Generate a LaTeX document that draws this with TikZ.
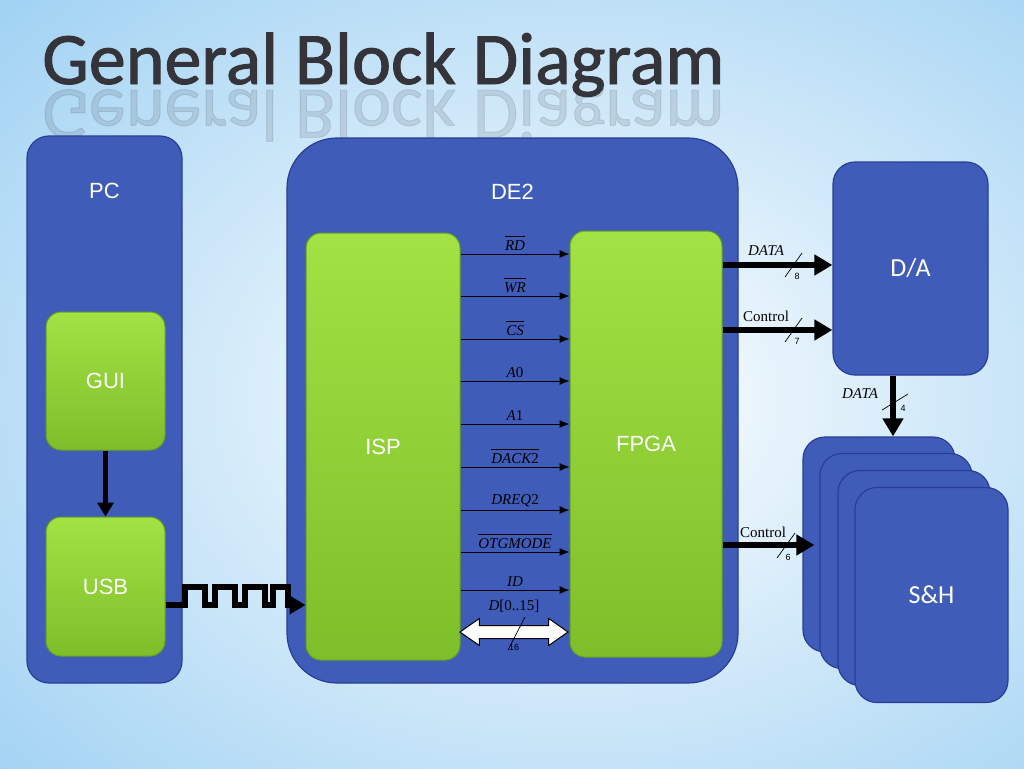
\documentclass[tikz,border=0pt]{standalone}
\usepackage{fontspec}
\setmainfont{Liberation Sans}
\newfontfamily\titlefont{Carlito}
\newfontfamily\headfont[FakeBold=1.3]{Carlito}
\newfontfamily\sigfont{Liberation Serif}
\usetikzlibrary{shapes,arrows,arrows.meta,positioning}

\definecolor{skyblue}{RGB}{150,205,242}
\definecolor{boxblue}{RGB}{64,92,185}
\definecolor{boxedge}{RGB}{40,62,150}
\definecolor{lightgreen}{RGB}{163,226,68}
\definecolor{darkgreen}{RGB}{126,190,42}
\definecolor{greenedge}{RGB}{100,160,30}
\definecolor{titlegray}{RGB}{52,52,58}

\tikzstyle{bluebox} = [rectangle, draw=boxedge, line width=1.2pt, fill=boxblue,
    rounded corners=22pt, text=white, font=\fontsize{22}{26}\selectfont]
\tikzstyle{greenbox} = [rectangle, draw=greenedge, line width=1pt, top color=lightgreen,
    bottom color=darkgreen, rounded corners=15pt, text=white, font=\fontsize{22}{26}\selectfont]
\tikzstyle{tag} = [text=white, font=\fontsize{22}{26}\selectfont]
\tikzstyle{line} = [draw, -{Latex[length=10pt,width=8pt]}, line width=1pt]
\tikzstyle{bus} = [draw, line width=6pt, -{Triangle[length=18pt,width=20pt]}]
\tikzstyle{sig} = [above, inner sep=3pt, font=\sigfont\fontsize{15}{17}\selectfont]
\tikzstyle{slash} = [draw, line width=0.7pt]
\tikzstyle{width} = [font=\fontsize{9}{10}\selectfont, inner sep=0pt]

\newcommand{\ovl}[1]{$\overline{\mbox{\rule{0pt}{12.5pt}#1}}$}

\begin{document}
\begin{tikzpicture}[x=1pt, y=-1pt, node distance=66pt, auto]
		% background
		\useasboundingbox (0,0) rectangle (1024,768);
		\shade [inner color=white, outer color=skyblue] (-300,-250) rectangle (1450,1050);

		% title
		\node [anchor=base west, inner sep=0pt, text=titlegray, font=\headfont\fontsize{74}{74}\selectfont] (title) at (42,84) {General Block Diagram};
		\node [anchor=base west, inner sep=0pt, text=titlegray, opacity=0.13, font=\headfont\fontsize{74}{74}\selectfont] (mirror) at (42,90) {\scalebox{1}[-1]{General Block Diagram}};

		% PC side
		\node [bluebox, minimum width=155pt, minimum height=547pt] (pc) at (104.5,409.5) {};
		\node [tag] at ([yshift=-56pt]pc.north) {PC};
		\node [greenbox, minimum width=119pt, minimum height=138pt] (gui) at (105.5,381) {GUI};
		\node [greenbox, minimum width=119pt, minimum height=139pt, below=66pt of gui] (usb) {USB};

		% DE2 board
		\node [bluebox, rounded corners=50pt, minimum width=451pt, minimum height=545pt] (de2) at (512.5,410.5) {};
		\node [tag] at ([yshift=-54pt]de2.north) {DE2};
		\node [greenbox, minimum width=154pt, minimum height=427pt] (isp) at (383,446.5) {ISP};
		\node [greenbox, minimum width=152pt, minimum height=426pt] (fpga) at (646,444) {FPGA};

		% converters
		\node [bluebox, minimum width=155pt, minimum height=213pt, font=\titlefont\fontsize{26}{30}\selectfont] (da) at (910.5,268.5) {D/A};
		\node [bluebox, minimum width=152pt, minimum height=215pt] (sh1) at (879,544.5) {};
		\node [bluebox, minimum width=152pt, minimum height=215pt] (sh2) at (896,561) {};
		\node [bluebox, minimum width=152pt, minimum height=215pt] (sh3) at (914,578) {};
		\node [bluebox, minimum width=153pt, minimum height=215pt, font=\titlefont\fontsize{26}{30}\selectfont] (sh4) at (931.5,595) {S\&H};

		% PC links
		\path [draw, line width=5pt, -{Triangle[length=14pt,width=16pt]}] (gui) -- (usb);
		\draw [line width=6pt, -{Triangle[length=16pt,width=18pt]}] (usb.east |- 0,605) -- (185,605) |- (205,587) |- (215,605) |- (235,587) |- (245,605) |- (265,587) |- (273,605) |- (288,587) |- (300,605) -- (isp.west |- 0,605);

		% ISP -> FPGA
		\path [line] (isp.east |- 0,254) -- node [sig] {\ovl{\itshape RD}} (fpga.west |- 0,254);
		\path [line] (isp.east |- 0,296) -- node [sig] {\ovl{\itshape WR}} (fpga.west |- 0,296);
		\path [line] (isp.east |- 0,339) -- node [sig] {\ovl{\itshape CS}} (fpga.west |- 0,339);
		\path [line] (isp.east |- 0,381) -- node [sig] {\textit{A}0} (fpga.west |- 0,381);
		\path [line] (isp.east |- 0,424) -- node [sig] {\textit{A}1} (fpga.west |- 0,424);
		\path [line] (isp.east |- 0,467) -- node [sig] {\ovl{\itshape DACK\upshape 2}} (fpga.west |- 0,467);
		\path [line] (isp.east |- 0,510) -- node [sig] {\textit{DREQ}2} (fpga.west |- 0,510);
		\path [line] (isp.east |- 0,552) -- node [sig] {\ovl{\itshape OTGMODE}} (fpga.west |- 0,552);
		\path [line] (isp.east |- 0,590) -- node [sig] {\textit{ID}} (fpga.west |- 0,590);
		\node [sig, anchor=center] (dlbl) at (514,606) {\textit{D}[0..15]};
		\node [double arrow, draw=black, line width=1pt, fill=white, minimum height=108pt, inner xsep=0pt, inner ysep=6pt, double arrow head extend=7pt, double arrow tip angle=70] (dbus) at (514,632) {};
		\draw [slash] (508,650) -- (525,617);
		\node [width] at (514,647) {16};

		% FPGA -> converters
		\path [bus] (fpga.east |- 0,265) -- (da.west |- 0,265);
		\node [sig, anchor=center, font=\sigfont\itshape\fontsize{15}{17}\selectfont] at (766,251) {DATA};
		\draw [slash] (785,277) -- (802,253);
		\node [width] at (797,276) {8};

		\path [bus] (fpga.east |- 0,330) -- (da.west |- 0,330);
		\node [sig, anchor=center] at (766,316) {Control};
		\draw [slash] (785,342) -- (802,318);
		\node [width] at (797,341) {7};

		\path [bus] (da.south -| 893,0) -- (sh1.north -| 893,0);
		\node [sig, anchor=center, font=\sigfont\itshape\fontsize{15}{17}\selectfont] at (860,394) {DATA};
		\draw [slash] (882,410) -- (908,394);
		\node [width] at (903,408) {4};

		\path [bus] (fpga.east |- 0,545) -- ([xshift=12pt]sh1.west |- 0,545);
		\node [sig, anchor=center] at (763,532) {Control};
		\draw [slash] (777,558) -- (795,533);
		\node [width] at (788,557) {6};
\end{tikzpicture}
\end{document}
